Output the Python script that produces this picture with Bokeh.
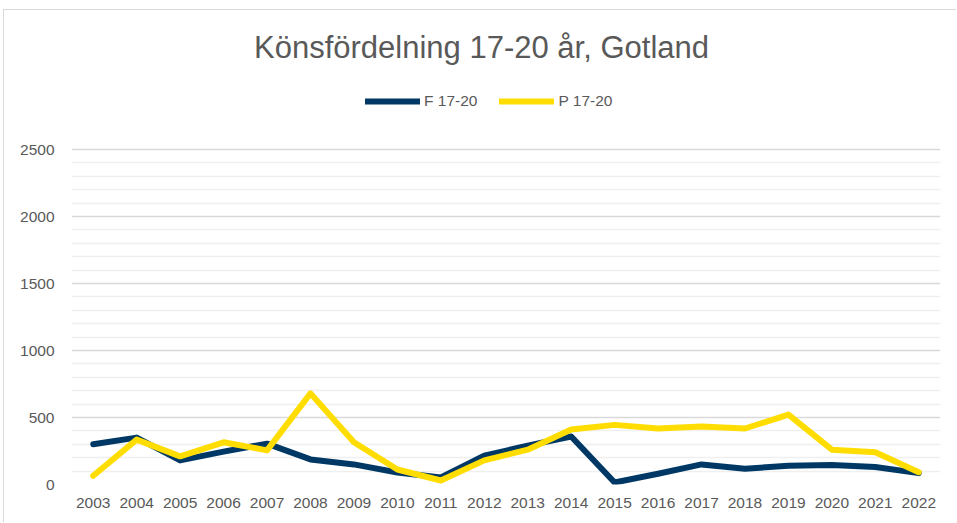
from bokeh.plotting import figure
from bokeh.models import (FactorRange, Range1d, FixedTicker, Label,
                          Legend, LegendItem)
from bokeh.embed import file_html
from bokeh.resources import INLINE

years = [str(y) for y in range(2003, 2023)]
f_values = [300, 350, 180, 245, 305, 187, 150, 90, 52, 215, 290, 358, 15, 80, 150, 118, 140, 145, 130, 85]
p_values = [65, 335, 210, 315, 255, 680, 315, 112, 30, 180, 260, 410, 445, 418, 432, 418, 522, 260, 240, 92]
y_major_ticks = [0, 500, 1000, 1500, 2000, 2500]
y_minor_ticks = [v for v in range(100, 2500, 100) if v % 500 != 0]
title_text = "Könsfördelning 17-20 år, Gotland"
series_names = ["F 17-20", "P 17-20"]

FONT = "Liberation Sans"
TXT = "#595959"
BLUE = "#003865"
YELLOW = "#FFDD00"

# frame spans from the top of the chart area down to the zero line;
# the space above 2500 holds the title and legend
frame_h = 474
px_per_unit = 335 / 2500
y_top = frame_h / px_per_unit

p = figure(width=953, height=513, x_range=FactorRange(*years),
           y_range=Range1d(0, y_top), output_backend="svg",
           toolbar_location=None, min_border_left=67, min_border_right=17,
           min_border_top=0, min_border_bottom=39)
p.outline_line_color = None
p.background_fill_color = "white"
p.border_fill_color = "white"
p.styles = {"margin-left": "3px", "margin-top": "9px",
            "border-left": "1px solid #d9d9d9", "border-top": "1px solid #d9d9d9"}

r_f = p.line(years, f_values, line_color=BLUE, line_width=6,
             line_join="round", line_cap="round")
r_p = p.line(years, p_values, line_color=YELLOW, line_width=6,
             line_join="round", line_cap="round")

p.yaxis.ticker = FixedTicker(ticks=y_major_ticks, minor_ticks=y_minor_ticks)
p.ygrid.grid_line_color = "#d9d9d9"
p.ygrid.grid_line_width = 1.3
p.ygrid.minor_grid_line_color = "#efefef"
p.ygrid.minor_grid_line_width = 1.3
p.xgrid.grid_line_color = None

for ax in (p.xaxis, p.yaxis):
    ax.axis_line_color = None
    ax.major_tick_line_color = None
    ax.minor_tick_line_color = None
    ax.major_label_text_font = FONT
    ax.major_label_text_font_size = "15.5px"
    ax.major_label_text_color = TXT
p.yaxis.major_label_standoff = 11
p.xaxis.major_label_standoff = 7

title = Label(x=410, y=437, x_units="screen", y_units="screen", text=title_text,
              text_font=FONT, text_font_size="31px", text_color=TXT,
              text_align="center", text_baseline="middle")
p.add_layout(title)

legend = Legend(items=[LegendItem(label=series_names[0], renderers=[r_f]),
                       LegendItem(label=series_names[1], renderers=[r_p])],
                orientation="horizontal", location=(294, 373),
                glyph_width=55, glyph_height=20, label_standoff=4, spacing=22,
                padding=0, margin=0, border_line_color=None,
                background_fill_alpha=0, label_text_font=FONT,
                label_text_font_size="15.5px", label_text_color=TXT)
p.add_layout(legend)

open("out.html", "w").write(file_html(p, INLINE))
